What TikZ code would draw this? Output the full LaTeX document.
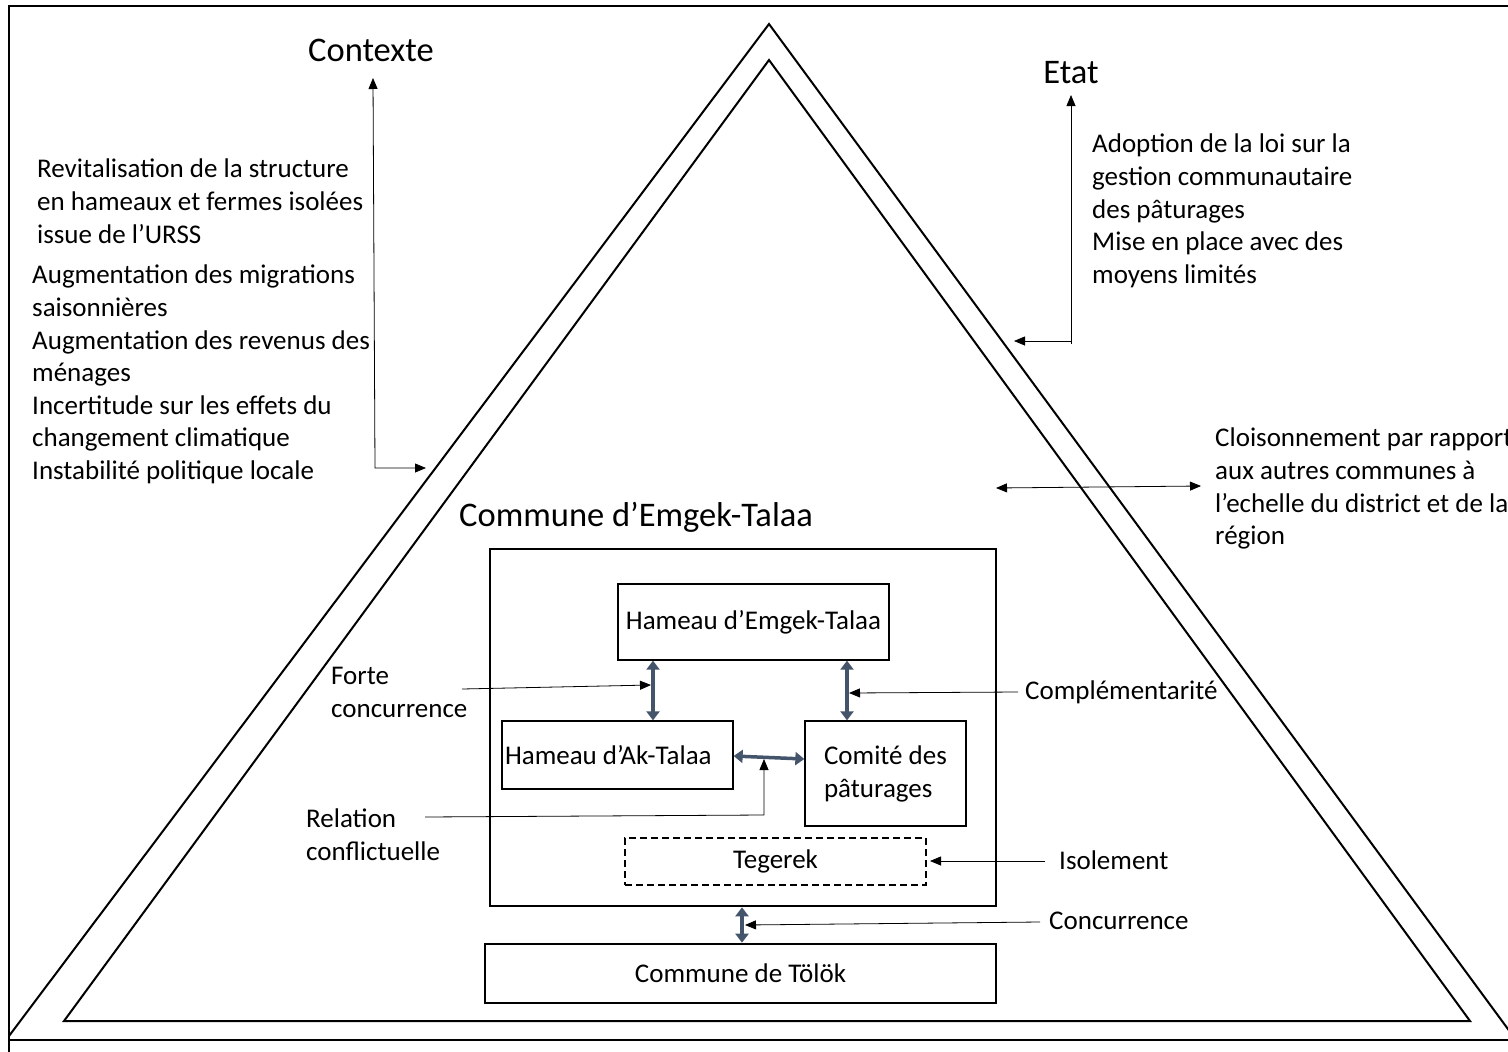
\documentclass[tikz,border=0pt]{standalone}
\usepackage{fontspec}
\setmainfont{Carlito}
\usetikzlibrary{arrows.meta,calc}
\definecolor{slate}{HTML}{44546A}
\begin{document}
\begin{tikzpicture}[x=1pt,y=-1pt,
  lbl/.style={font=\fontsize{27}{32.6}\selectfont, align=left, inner sep=0pt, anchor=north west},
  ttl/.style={font=\fontsize{34.5}{40}\selectfont, inner sep=0pt},
  box/.style={draw, line width=1.3pt, inner ysep=0pt, font=\fontsize{27}{32.6}\selectfont},
  bigbox/.style={draw, line width=2.6pt, inner sep=0pt},
  tip/.style={-{Triangle[length=11pt,width=9pt]}},
  thinline/.style={line width=0.8pt},
  thickarr/.style={draw=slate, line width=3.5pt, {Triangle[length=9pt,width=13pt]}-{Triangle[length=9pt,width=13pt]}},
  frameline/.style={line width=2pt},
  tri/.style={line width=2pt, line join=miter},
]
\useasboundingbox (0,0) rectangle (1508,1052);
\clip (0,0) rectangle (1508,1052);

% frame
\draw[frameline] (9,1052) -- (9,6) -- (1520,6);
\draw[frameline] (9,1040) -- (1520,1040);

% triangles
\draw[tri] (9,1036) -- (769,24) -- (1516,1040);
\draw[tri] (64,1021) -- (769,60) -- (1470,1021) -- cycle;

% titles
\node[ttl] (ctx) at (371,50) {Contexte};
\node[ttl] (etat) at (1071,73) {Etat};
\node[ttl, anchor=west] (cet) at (459,517) {Commune d’Emgek-Talaa};

% left texts
\node[lbl] (l1) at (37,159) {Revitalisation de la structure\\en hameaux et fermes isolées\\issue de l’URSS};
\node[lbl] (l2) at (32,265) {Augmentation des migrations\\saisonnières\\Augmentation des revenus des\\ménages\\Incertitude sur les effets du\\changement climatique\\Instabilité politique locale};

% right texts
\node[lbl] (r1) at (1092,134) {Adoption de la loi sur la\\gestion communautaire\\des pâturages\\Mise en place avec des\\moyens limités};
\node[lbl] (r2) at (1215,428) {Cloisonnement par rapport\\aux autres communes à\\l’echelle du district et de la\\région};

% inner labels
\node[lbl] (forte) at (331,667) {Forte\\concurrence};
\node[lbl] (rel) at (306,809) {Relation\\conflictuelle};
\node[lbl, anchor=west] (compl) at (1025,692) {Complémentarité};
\node[lbl, anchor=west] (isol) at (1059,860) {Isolement};
\node[lbl, anchor=west] (conc) at (1049,921) {Concurrence};

% boxes
\node[bigbox, minimum width=506pt, minimum height=357pt] (cbox) at (743,727.5) {};
\node[box, minimum width=271pt, minimum height=76pt, inner xsep=0pt] (emgek) at (753.5,622) {Hameau d’Emgek-Talaa};
\node[box, text width=225pt, inner xsep=3pt, align=flush left, minimum height=68pt] (ak) at (617.5,755) {Hameau d’Ak-Talaa};
\node[box, align=left, inner xsep=0pt, minimum width=161pt, minimum height=105pt, font=\fontsize{27}{33}\selectfont] (comite) at (885.5,773.5) {Comité des\\pâturages};
\node[box, dashed, dash pattern=on 7pt off 4pt, minimum width=301pt, minimum height=47pt] (teg) at (775.5,861.5) {Tegerek};
\node[bigbox, minimum width=511pt, minimum height=59pt, font=\fontsize{27}{32.6}\selectfont] (tolok) at (740.5,973.5) {Commune de Tölök};

% helper coordinates
\coordinate (xa) at (653,0);
\coordinate (xb) at (847,0);
\coordinate (xc) at (742,0);

% thick arrows
\draw[thickarr] (emgek.south -| xa) -- (ak.north -| xa);
\draw[thickarr] (emgek.south -| xb) -- (comite.north -| xb);
\draw[thickarr] (ak.east |- 0,756) -- (comite.west |- 0,759);
\draw[thickarr] (cbox.south -| xc) -- (tolok.north -| xc);

% thin label arrows
\coordinate (ctxtip) at (373,78);
\coordinate (ctxc) at (375,468);
\coordinate (ctxend) at (426,468);
\draw[thinline, {Triangle[length=11pt,width=9pt]}-{Triangle[length=11pt,width=9pt]}] (ctxtip) -- (ctxc) -- (ctxend);

\coordinate (etip) at (1071,95);
\coordinate (ebot) at (1071,344);
\coordinate (ec) at (1071,341);
\coordinate (eend) at (1014,341);
\draw[thinline, tip] (ebot) -- (etip);
\draw[thinline, tip] (ec) -- (eend);

\coordinate (cl1) at (996,488);
\coordinate (cl2) at (1201,486);
\draw[thinline, {Triangle[length=11pt,width=9pt]}-{Triangle[length=11pt,width=9pt]}] (cl1) -- (cl2);

\coordinate (f1) at (462,689);
\coordinate (f2) at (651,685);
\draw[thinline, tip] (f1) -- (f2);

\coordinate (k1) at (1018,692);
\coordinate (k2) at (849,693);
\draw[thinline, tip] (k1) -- (k2);

\coordinate (r1a) at (425,817);
\coordinate (r1b) at (764,815);
\coordinate (r1c) at (764,759);
\draw[thinline, tip] (r1a) -- (r1b) -- (r1c);

\coordinate (i1) at (1045,861);
\coordinate (i2) at (930,861);
\draw[thinline, tip] (i1) -- (i2);

\coordinate (q1) at (1040,922);
\coordinate (q2) at (745,925);
\draw[thinline, tip] (q1) -- (q2);
\end{tikzpicture}
\end{document}
